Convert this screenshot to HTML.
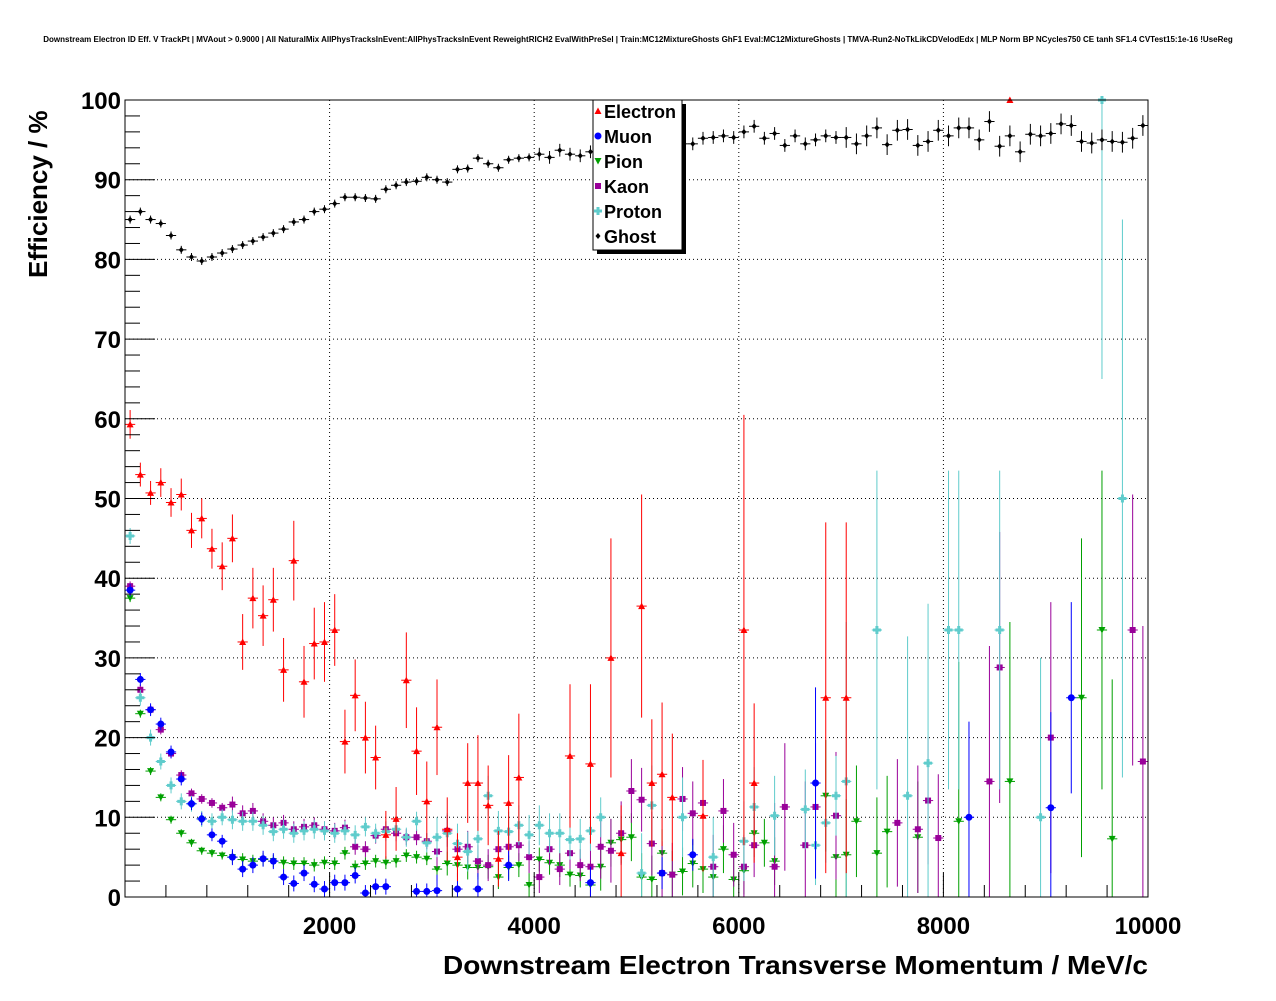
<!DOCTYPE html>
<html><head><meta charset="utf-8"><style>
body{margin:0;background:#fff}
svg text{font-family:"Liberation Sans",sans-serif;font-weight:bold}
</style></head><body>
<svg id="c" width="1276" height="996" xmlns="http://www.w3.org/2000/svg">
<rect width="1276" height="996" fill="#fff"/>
<text x="638" y="42" font-size="8" text-anchor="middle">Downstream Electron ID Eff. V TrackPt | MVAout &gt; 0.9000 | All NaturalMix AllPhysTracksInEvent:AllPhysTracksInEvent ReweightRICH2 EvalWithPreSel | Train:MC12MixtureGhosts GhF1 Eval:MC12MixtureGhosts | TMVA-Run2-NoTkLikCDVelodEdx | MLP Norm BP NCycles750 CE tanh SF1.4 CVTest15:1e-16 !UseReg</text>
<g id="grid"></g><g id="marks"></g><g id="axes"></g>
<text x="1148" y="974" font-size="26" text-anchor="end" textLength="705" lengthAdjust="spacingAndGlyphs">Downstream Electron Transverse Momentum / MeV/c</text>
<text transform="translate(47,278) rotate(-90)" font-size="26">Efficiency / %</text>
<g id="legend"></g>
</svg>
<script>
const xTicks=[2000,4000,6000,8000,10000];
const yTicks=[0,10,20,30,40,50,60,70,80,90,100];
const ghostBins=[...Array(100).keys()];
const ghostVals=[85,86,85,84.5,83,81.2,80.3,79.8,80.3,80.8,81.3,81.8,82.3,82.8,83.3,83.8,84.7,85,86,86.3,87,87.8,87.8,87.7,87.6,88.8,89.3,89.7,89.8,90.3,90,89.7,91.3,91.4,92.7,92,91.5,92.5,92.7,92.8,93.2,92.8,93.7,93.2,93,93.5,93.8,94.5,94,94.5,94.2,94.5,94.8,94.3,94.5,94.5,95.2,95.3,95.5,95.3,96,96.7,95.2,95.8,94.3,95.5,94.5,95,95.5,95.3,95.3,94.5,95.5,96.5,94.4,96.2,96.3,94.3,94.8,96.2,95.5,96.5,96.5,95,97.3,94.2,95.5,93.5,95.7,95.5,95.8,97,96.8,94.8,94.6,95,94.8,94.7,95.2,96.8];
const ghostErrs=ghostBins.map(i=>i<40?0.5:i<70?0.8:1.3);
const electronBins=[0,1,2,3,4,5,6,7,8,9,10,11,12,13,14,15,16,17,18,19,20,21,22,23,24,25,26,27,28,29,30,31,32,33,34,35,36,37,38,43,45,47,48,50,51,52,53,56,60,61,68,70,86];
const electronVals=[59.3,53,50.7,52,49.5,50.5,46,47.5,43.7,41.5,45,32,37.5,35.3,37.3,28.5,42.2,27,31.8,32,33.5,19.5,25.3,20,17.5,7.8,9.8,27.2,18.3,12,21.3,8.5,5,14.3,14.3,11.5,4.8,11.8,15,17.7,16.7,30,5.5,36.5,14.3,15.4,12.5,10.2,33.5,14.3,25,25,100];
const electronErrs=[1.8,1.5,1.5,1.8,1.8,2,2.2,2.5,2.5,3,3,3.5,3.8,3.8,4,4,5,4.5,4.5,5,4.5,4,4.5,4.5,4,3,4,6,5.5,5,6,4,3,5,6,5,3.5,6,8,9,10,15,6,14,8,9,8,7,27,10,22,22,0];
const muonBins=[0,1,2,3,4,5,6,7,8,9,10,11,12,13,14,15,16,17,18,19,20,21,22,23,24,25,28,29,30,32,34,37,45,52,55,67,82,90,92];
const muonVals=[38.5,27.3,23.5,21.7,18.2,14.8,11.7,9.8,7.8,7,5,3.5,4,4.8,4.5,2.5,1.7,3,1.6,1,1.8,1.8,2.7,0.5,1.3,1.3,0.7,0.7,0.8,1,1,4,1.8,3,5.3,14.3,10,11.2,25];
const muonErrs=muonBins.map((b,i)=>b<10?0.8:b<30?1:b<60?2:12);
const pionBins=[...Array(64).keys()].concat([68,69,70,71,73,74,77,81,86,93,95,96]);
const pionVals=[37.5,23,15.8,12.5,9.7,8,6.8,5.8,5.5,5.2,5,4.7,4.5,4.7,4.5,4.3,4.2,4.2,4,4.3,4.2,5.5,3.8,4.2,4.5,4.3,4.5,5.2,5,4.8,3.5,4.2,4,3.7,3.7,3.8,2.5,3.7,4,1.5,4.7,4.3,4,2.8,2.7,1.5,3.8,6.8,7.2,7.5,2.5,2.2,5.5,2.8,3.2,4.2,3.5,2.5,6,2.2,3.3,8,6.8,4.5,12.7,5,5.3,9.5,5.5,8.2,7.5,9.5,14.5,25,33.5,7.3];
const pionErrs=pionBins.map(b=>b<10?0.5:b<30?0.8:b<45?1.5:b<64?3:b<80?7:20);
const kaonBins=[...Array(62).keys()].concat([63,64,66,67,69,75,77,78,79,84,85,90,98,99]);
const kaonVals=[39,26,23.5,21,18,15.3,13,12.3,11.8,11.2,11.6,10.5,10.8,9.5,9,9.3,8.5,8.8,9,8.5,8.3,8.7,6.3,6,7.7,8.5,8,7.5,7.5,7,5.7,8.3,6,6.3,4.5,4,6,6.3,6.5,5,2.5,6,3.5,5.5,4,3.8,6.3,5.8,8,13.3,12.2,6.7,3,2.8,12.3,10.5,11.8,3.8,10.8,5.3,3.8,6.5,3.8,11.3,6.5,11.3,10.2,9.3,8.5,12.1,7.4,14.5,28.8,20,33.5,17];
const kaonErrs=kaonBins.map(b=>b<10?0.6:b<30?1:b<45?2:b<62?4:b<80?8:17);
const protonBins=[...Array(47).keys()].concat([50,51,54,57,60,61,63,66,67,68,69,70,73,76,78,80,81,85,89,95,97]);
const protonVals=[45.3,25,20,17,14,12,11.7,9.8,9.5,10,9.7,9.5,9.5,9,8.2,8.5,8,8.3,8.5,8.3,8,8.3,7.8,8.8,8,8.2,8.5,7.5,9.5,6.8,7.5,8,6.7,5.7,7.3,12.7,8.3,8.2,9,7.8,9,8,8,7.2,7.3,8.3,10,3,11.5,10,5,7,11.3,10.2,11,6.5,9.3,12.7,14.5,33.5,12.7,16.8,33.5,33.5,33.5,10,100,50];
const protonErrs=protonBins.map(b=>b<10?1:b<30?1.2:b<50?2.5:b<70?5:b<90?20:35);

const X0=125,X1=1148,Y0=897,Y1=100;
const sx=v=>X0+(v/10000)*(X1-X0);
const sy=v=>Y0-(v/100)*(Y0-Y1);
const NS="http://www.w3.org/2000/svg";
function mk(t,a,p){const e=document.createElementNS(NS,t);for(const k in a)e.setAttribute(k,a[k]);p.appendChild(e);return e;}
const grid=document.getElementById('grid'),axes=document.getElementById('axes'),marks=document.getElementById('marks');
xTicks.forEach(t=>{
  const g=mk('line',{x1:sx(t),x2:sx(t),y1:Y1,y2:Y0,stroke:'#000','stroke-dasharray':'1,3','stroke-width':1},grid);
  
  
  const l=mk('text',{x:sx(t),y:934,'font-size':24,'text-anchor':'middle'},axes);l.textContent=t;
  
  
});
for(let v=0;v<=10000;v+=400){mk('line',{x1:sx(v),x2:sx(v),y1:Y0,y2:Y0-(v%2000==0?24:12),stroke:'#000'},axes);}
yTicks.forEach(t=>{
  const g=mk('line',{x1:X0,x2:X1,y1:sy(t),y2:sy(t),stroke:'#000','stroke-dasharray':'1,3','stroke-width':1},grid);
  
  
  const l=mk('text',{x:121,y:sy(t)+9,'font-size':24,'text-anchor':'end'},axes);l.textContent=t;
  
  
});
for(let v=0;v<=100;v+=2){mk('line',{x1:X0,x2:X0+(v%10==0?30:15),y1:sy(v),y2:sy(v),stroke:'#000'},axes);}
const fr=mk('rect',{x:X0,y:Y1,width:X1-X0,height:Y0-Y1,fill:'none',stroke:'#000'},axes);



function marker(kind,x,y,col,p){
  if(kind==='tu')return mk('path',{d:`M${x-3.5},${y+3} L${x+3.5},${y+3} L${x},${y-3.5}Z`,fill:col},p);
  if(kind==='td')return mk('path',{d:`M${x-3.5},${y-3} L${x+3.5},${y-3} L${x},${y+3.5}Z`,fill:col},p);
  if(kind==='c')return mk('circle',{cx:x,cy:y,r:3.5,fill:col},p);
  if(kind==='s')return mk('rect',{x:x-3,y:y-3,width:6,height:6,fill:col},p);
  if(kind==='p')return mk('path',{d:`M${x-1.5},${y-4}h3v2.5h2.5v3h-2.5v2.5h-3v-2.5h-2.5v-3h2.5Z`,fill:col},p);
  return mk('path',{d:`M${x},${y-3}L${x+2.5},${y}L${x},${y+3}L${x-2.5},${y}Z`,fill:col},p);
}
function series(name,bins,vals,errs,col,kind){
  const g=mk('g',{},marks);
  
  
  bins.forEach((b,i)=>{
    const xc=(b+0.5)*100,x=sx(xc),y=sy(vals[i]);
    const hi=Math.min(100,vals[i]+errs[i]),lo=Math.max(0,vals[i]-errs[i]);
    mk('line',{x1:sx(b*100),x2:sx(b*100+100),y1:y,y2:y,stroke:col},g);
    mk('line',{x1:x,x2:x,y1:sy(hi),y2:sy(lo),stroke:col},g);
    const m=marker(kind,x,y,col,g);
    
    
  });
}
series('pion',pionBins,pionVals,pionErrs,'#00a000','td');
series('kaon',kaonBins,kaonVals,kaonErrs,'#990099','s');
series('proton',protonBins,protonVals,protonErrs,'#5fcccc','p');
series('muon',muonBins,muonVals,muonErrs,'#0000ff','c');
series('electron',electronBins,electronVals,electronErrs,'#ff0000','tu');
series('ghost',ghostBins,ghostVals,ghostErrs,'#000','g');

const lg=document.getElementById('legend');
mk('rect',{x:597,y:104,width:89,height:150,fill:'#000'},lg);
mk('rect',{x:593,y:100,width:89,height:150,fill:'#fff',stroke:'#000'},lg);
const legNames=['Electron','Muon','Pion','Kaon','Proton','Ghost'];
const legCols=['#ff0000','#0000ff','#00a000','#990099','#5fcccc','#000'];
const legKinds=['tu','c','td','s','p','g'];
legNames.forEach((n,i)=>{
  const y=111+i*25;
  const m=marker(legKinds[i],598,y,legCols[i],lg);
  
  
  const t=mk('text',{x:604,y:y+7,'font-size':18},lg);t.textContent=n;
  
  
});
</script>
</body></html>
